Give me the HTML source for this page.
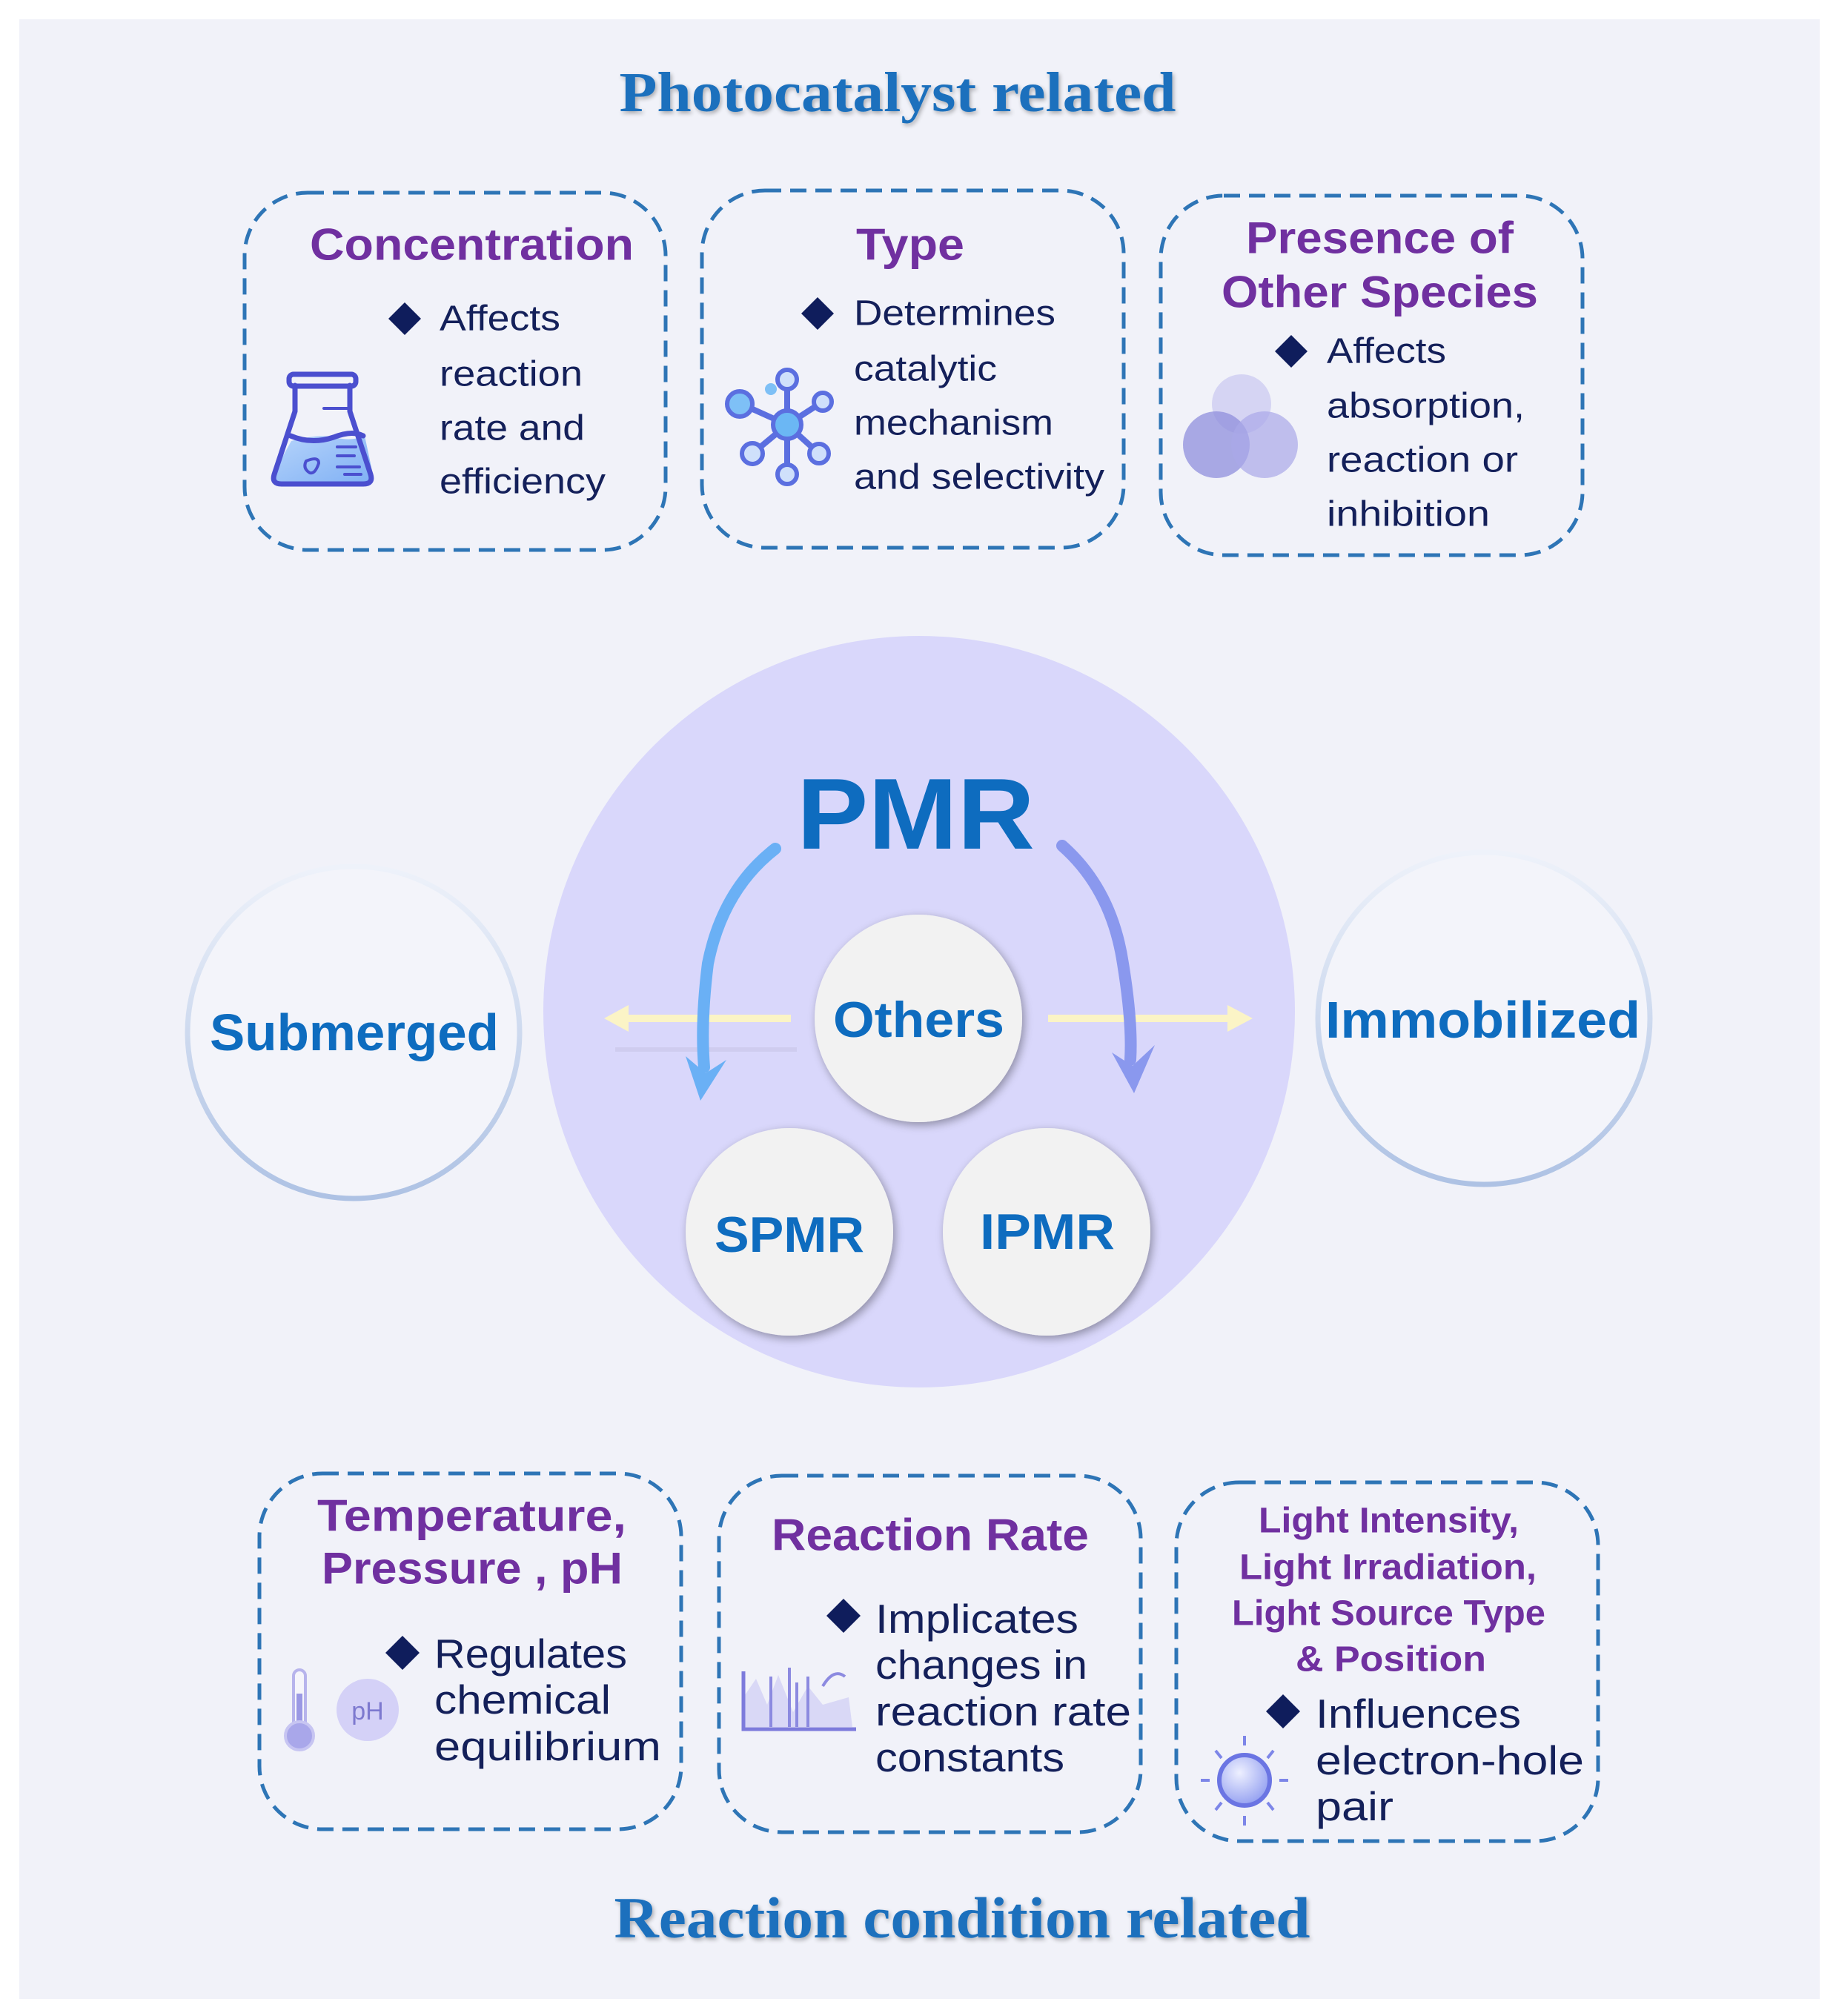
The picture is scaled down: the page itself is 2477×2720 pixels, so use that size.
<!DOCTYPE html>
<html><head><meta charset="utf-8"><style>html,body{margin:0;padding:0;background:#fff}svg{display:block}</style></head>
<body>
<svg width="2477" height="2720" viewBox="0 0 2477 2720" xmlns="http://www.w3.org/2000/svg">
<defs>
<filter id="sh" x="-20%" y="-20%" width="140%" height="140%"><feGaussianBlur in="SourceAlpha" stdDeviation="6"/><feOffset dx="3" dy="4"/><feComponentTransfer><feFuncA type="linear" slope="0.35"/></feComponentTransfer><feMerge><feMergeNode/><feMergeNode in="SourceGraphic"/></feMerge></filter>
<filter id="tsh" x="-5%" y="-20%" width="110%" height="150%"><feGaussianBlur in="SourceAlpha" stdDeviation="3"/><feOffset dx="2" dy="3"/><feComponentTransfer><feFuncA type="linear" slope="0.3"/></feComponentTransfer><feMerge><feMergeNode/><feMergeNode in="SourceGraphic"/></feMerge></filter>
<linearGradient id="ring" x1="0" y1="0" x2="0" y2="1"><stop offset="0" stop-color="#eef2fa"/><stop offset="1" stop-color="#aec2e4"/></linearGradient>
<linearGradient id="liq" x1="0" y1="0" x2="1" y2="1"><stop offset="0" stop-color="#b6d4fb"/><stop offset="1" stop-color="#7fb0f4"/></linearGradient>
<radialGradient id="sun" cx="0.4" cy="0.35" r="0.7"><stop offset="0" stop-color="#eef0ff"/><stop offset="1" stop-color="#8f9cf0"/></radialGradient>
</defs>
<rect width="2477" height="2720" fill="#fff"/>
<rect x="26" y="26" width="2429" height="2671" fill="#f1f2f9"/>

<g font-family="'Liberation Serif',serif" font-weight="bold" fill="#1a6fbd" text-anchor="middle" filter="url(#tsh)">
<text x="1211" y="150" font-size="76" textLength="751" lengthAdjust="spacingAndGlyphs">Photocatalyst related</text>
<text x="1298" y="2614" font-size="78" textLength="939" lengthAdjust="spacingAndGlyphs">Reaction condition related</text>
</g>

<!-- dashed boxes -->
<g fill="none" stroke="#2e75b6" stroke-width="5" stroke-dasharray="22 12">
<rect x="330" y="260" width="568" height="482" rx="85"/>
<rect x="947" y="257" width="569" height="482" rx="85"/>
<rect x="1566" y="264" width="569" height="485" rx="85"/>
<rect x="350" y="1988" width="569" height="480" rx="85"/>
<rect x="970" y="1991" width="569" height="481" rx="85"/>
<rect x="1587" y="2000" width="569" height="484" rx="85"/>
</g>

<g font-family="'Liberation Sans',sans-serif" dominant-baseline="central">
<!-- titles -->
<g font-weight="bold" fill="#7030a0" font-size="60" lengthAdjust="spacingAndGlyphs">
<text x="418" y="330" textLength="437" lengthAdjust="spacingAndGlyphs">Concentration</text>
<text x="1155" y="330" textLength="146" lengthAdjust="spacingAndGlyphs">Type</text>
<text x="1681" y="321" textLength="361" lengthAdjust="spacingAndGlyphs">Presence of</text>
<text x="1648" y="394" textLength="427" lengthAdjust="spacingAndGlyphs">Other Species</text>
<text x="428" y="2045" textLength="417" lengthAdjust="spacingAndGlyphs">Temperature,</text>
<text x="434" y="2116" textLength="406" lengthAdjust="spacingAndGlyphs">Pressure , pH</text>
<text x="1041" y="2071" textLength="428" lengthAdjust="spacingAndGlyphs">Reaction Rate</text>
<g font-size="48">
<text x="1698" y="2052" textLength="351" lengthAdjust="spacingAndGlyphs">Light Intensity,</text>
<text x="1672" y="2115" textLength="401" lengthAdjust="spacingAndGlyphs">Light Irradiation,</text>
<text x="1662" y="2177" textLength="423" lengthAdjust="spacingAndGlyphs">Light Source Type</text>
<text x="1748" y="2239" textLength="257" lengthAdjust="spacingAndGlyphs">&amp; Position</text>
</g>
</g>
<!-- body -->
<g fill="#14205a" font-size="48">
<text x="593" y="430" textLength="163" lengthAdjust="spacingAndGlyphs">Affects</text>
<text x="593" y="505" textLength="193" lengthAdjust="spacingAndGlyphs">reaction</text>
<text x="593" y="578" textLength="196" lengthAdjust="spacingAndGlyphs">rate and</text>
<text x="593" y="650" textLength="224" lengthAdjust="spacingAndGlyphs">efficiency</text>
<text x="1152" y="423" textLength="272" lengthAdjust="spacingAndGlyphs">Determines</text>
<text x="1152" y="498" textLength="193" lengthAdjust="spacingAndGlyphs">catalytic</text>
<text x="1152" y="571" textLength="269" lengthAdjust="spacingAndGlyphs">mechanism</text>
<text x="1152" y="644" textLength="338" lengthAdjust="spacingAndGlyphs">and selectivity</text>
<text x="1790" y="474" textLength="161" lengthAdjust="spacingAndGlyphs">Affects</text>
<text x="1790" y="548" textLength="267" lengthAdjust="spacingAndGlyphs">absorption,</text>
<text x="1790" y="621" textLength="258" lengthAdjust="spacingAndGlyphs">reaction or</text>
<text x="1790" y="694" textLength="220" lengthAdjust="spacingAndGlyphs">inhibition</text>
<g font-size="55">
<text x="586" y="2231" textLength="260" lengthAdjust="spacingAndGlyphs">Regulates</text>
<text x="586" y="2293" textLength="238" lengthAdjust="spacingAndGlyphs">chemical</text>
<text x="586" y="2356" textLength="306" lengthAdjust="spacingAndGlyphs">equilibrium</text>
<text x="1181" y="2184" textLength="274" lengthAdjust="spacingAndGlyphs">Implicates</text>
<text x="1181" y="2246" textLength="286" lengthAdjust="spacingAndGlyphs">changes in</text>
<text x="1181" y="2309" textLength="345" lengthAdjust="spacingAndGlyphs">reaction rate</text>
<text x="1181" y="2371" textLength="255" lengthAdjust="spacingAndGlyphs">constants</text>
<text x="1775" y="2312" textLength="277" lengthAdjust="spacingAndGlyphs">Influences</text>
<text x="1775" y="2375" textLength="362" lengthAdjust="spacingAndGlyphs">electron-hole</text>
<text x="1775" y="2437" textLength="105" lengthAdjust="spacingAndGlyphs">pair</text>
</g>
</g>
</g>
<!-- diamonds -->
<g fill="#0f1d5c">
<path d="M546 408 L568 430 L546 452 L524 430Z"/>
<path d="M1103 401 L1125 423 L1103 445 L1081 423Z"/>
<path d="M1742 452 L1764 474 L1742 496 L1720 474Z"/>
<path d="M543 2207 L566 2230 L543 2253 L520 2230Z"/>
<path d="M1138 2157 L1161 2180 L1138 2203 L1115 2180Z"/>
<path d="M1731 2286 L1754 2309 L1731 2332 L1708 2309Z"/>
</g>

<!-- flask -->
<g stroke="#4b4fcf" stroke-width="7" stroke-linejoin="round" stroke-linecap="round">
<path d="M393 595 Q430 585 450 590 Q475 596 492 588 L503 640 Q505 653 492 653 L378 653 Q365 653 368 640Z" fill="url(#liq)" stroke="none"/>
<path d="M398 520 L398 555 L370 640 Q366 653 380 653 L490 653 Q504 653 500 640 L472 555 L472 520" fill="none"/>
<rect x="390" y="505" width="90" height="16" rx="6" fill="none"/>
<path d="M392 588 Q420 600 450 590 Q475 580 490 588" fill="none"/>
<path d="M437 551 L470 551 M455 603 L480 603 M455 615 L478 615 M455 630 L485 630 M465 640 L487 640" stroke-width="4"/>
<path d="M413 622 Q430 615 430 625 Q425 640 418 638 Q408 632 413 622Z" fill="none" stroke-width="4"/>
</g>
<!-- molecule -->
<g stroke="#5b6fe0" stroke-width="8">
<line x1="1062" y1="573" x2="1062" y2="512"/><line x1="1062" y1="573" x2="1062" y2="640"/>
<line x1="1062" y1="573" x2="1000" y2="545"/><line x1="1062" y1="573" x2="1110" y2="542"/>
<line x1="1062" y1="573" x2="1015" y2="612"/><line x1="1062" y1="573" x2="1105" y2="612"/>
</g>
<g stroke="#5b6fe0" stroke-width="6" fill="#cfe0fb">
<circle cx="1062" cy="573" r="19" fill="#6bb7f4"/>
<circle cx="1062" cy="512" r="13"/><circle cx="1062" cy="640" r="13"/>
<circle cx="998" cy="545" r="17" fill="#7ec0f6"/><circle cx="1110" cy="542" r="12"/>
<circle cx="1015" cy="612" r="14"/><circle cx="1105" cy="612" r="13"/>
<circle cx="1040" cy="525" r="8" fill="#7ec0f6" stroke="none"/>
</g>
<!-- overlapping circles -->
<g>
<circle cx="1675" cy="545" r="40" fill="#c9c8f1" opacity="0.7"/>
<circle cx="1641" cy="600" r="45" fill="#8f8fdc" opacity="0.75"/>
<circle cx="1706" cy="600" r="45" fill="#a9a8e8" opacity="0.7"/>
</g>
<!-- thermometer -->
<g>
<rect x="396" y="2253" width="16" height="80" rx="8" fill="#f5f5fb" stroke="#b7b4ec" stroke-width="4"/>
<rect x="400" y="2285" width="8" height="45" fill="#9a98e4"/>
<circle cx="404" cy="2342" r="19" fill="#a9a7ea" stroke="#c7c5f2" stroke-width="4"/>
<circle cx="496" cy="2307" r="42" fill="#d4d1f7"/>
<text x="496" y="2309" font-family="'Liberation Sans',sans-serif" font-size="34" fill="#7d79cf" text-anchor="middle" dominant-baseline="central">pH</text>
</g>
<!-- chart -->
<g>
<path d="M1003 2290 L1020 2265 L1035 2300 L1050 2260 L1070 2310 L1090 2275 L1110 2300 L1145 2290 L1150 2330 L1003 2330Z" fill="#d9d8f6"/>
<path d="M1003 2255 L1003 2333 L1155 2333" fill="none" stroke="#7d7bdc" stroke-width="5"/>
<path d="M1040 2330 V2262 M1065 2330 V2250 M1075 2330 V2270 M1090 2330 V2262" stroke="#8c8ae0" stroke-width="4"/>
<path d="M1110 2275 Q1125 2250 1140 2262" fill="none" stroke="#8c8ae0" stroke-width="4"/>
</g>
<!-- sun -->
<g stroke="#7d86e8" stroke-width="4">
<line x1="1679" y1="2342" x2="1679" y2="2355"/><line x1="1679" y1="2450" x2="1679" y2="2463"/>
<line x1="1620" y1="2402" x2="1632" y2="2402"/><line x1="1726" y1="2402" x2="1738" y2="2402"/>
<line x1="1640" y1="2362" x2="1648" y2="2372"/><line x1="1718" y1="2362" x2="1710" y2="2372"/>
<line x1="1640" y1="2442" x2="1648" y2="2432"/><line x1="1718" y1="2442" x2="1710" y2="2432"/>
<circle cx="1679" cy="2402" r="34" fill="url(#sun)" stroke="#6b75e3" stroke-width="6"/>
</g>

<!-- side circles -->
<circle cx="477" cy="1393" r="224" fill="#f3f4fa" stroke="url(#ring)" stroke-width="7"/>
<circle cx="2002" cy="1374" r="224" fill="#f3f4fa" stroke="url(#ring)" stroke-width="7"/>

<!-- central circle -->
<circle cx="1240" cy="1365" r="507" fill="#d9d7fb"/>

<!-- yellow arrows -->
<g fill="#fbf4c6" stroke="none">
<rect x="845" y="1369" width="222" height="10"/><path d="M815 1374 L848 1356 L848 1392Z"/>
<rect x="1414" y="1369" width="245" height="10"/><path d="M1690 1374 L1656 1356 L1656 1392Z"/>
</g>
<line x1="830" y1="1416" x2="1075" y2="1416" stroke="#c9c5e8" stroke-width="6" opacity="0.6"/>

<!-- curved arrows -->
<path d="M1046 1145 Q975 1200 955 1300 Q945 1380 950 1440" fill="none" stroke="#6ab0f5" stroke-width="16" stroke-linecap="round"/>
<path d="M925 1425 L945 1485 L980 1430 L952 1448Z" fill="#6ab0f5"/>
<path d="M1433 1141 Q1500 1200 1515 1300 Q1528 1380 1525 1430" fill="none" stroke="#8a98ee" stroke-width="16" stroke-linecap="round"/>
<path d="M1500 1420 L1530 1475 L1558 1410 L1528 1438Z" fill="#8a98ee"/>

<!-- inner circles -->
<g fill="#f2f2f2" filter="url(#sh)">
<circle cx="1239" cy="1374" r="140"/>
<circle cx="1065" cy="1662" r="140"/>
<circle cx="1412" cy="1662" r="140"/>
</g>

<g font-family="'Liberation Sans',sans-serif" font-weight="bold" fill="#0e6cbf" dominant-baseline="central">
<text x="1075" y="1098" font-size="136" textLength="321" lengthAdjust="spacingAndGlyphs">PMR</text>
<text x="1124" y="1376" font-size="68" textLength="231" lengthAdjust="spacingAndGlyphs">Others</text>
<text x="964" y="1666" font-size="68" textLength="202" lengthAdjust="spacingAndGlyphs">SPMR</text>
<text x="1322" y="1662" font-size="68" textLength="182" lengthAdjust="spacingAndGlyphs">IPMR</text>
<text x="283" y="1393" font-size="70" textLength="390" lengthAdjust="spacingAndGlyphs">Submerged</text>
<text x="1788" y="1376" font-size="70" textLength="425" lengthAdjust="spacingAndGlyphs">Immobilized</text>
</g>
</svg>
</body></html>
